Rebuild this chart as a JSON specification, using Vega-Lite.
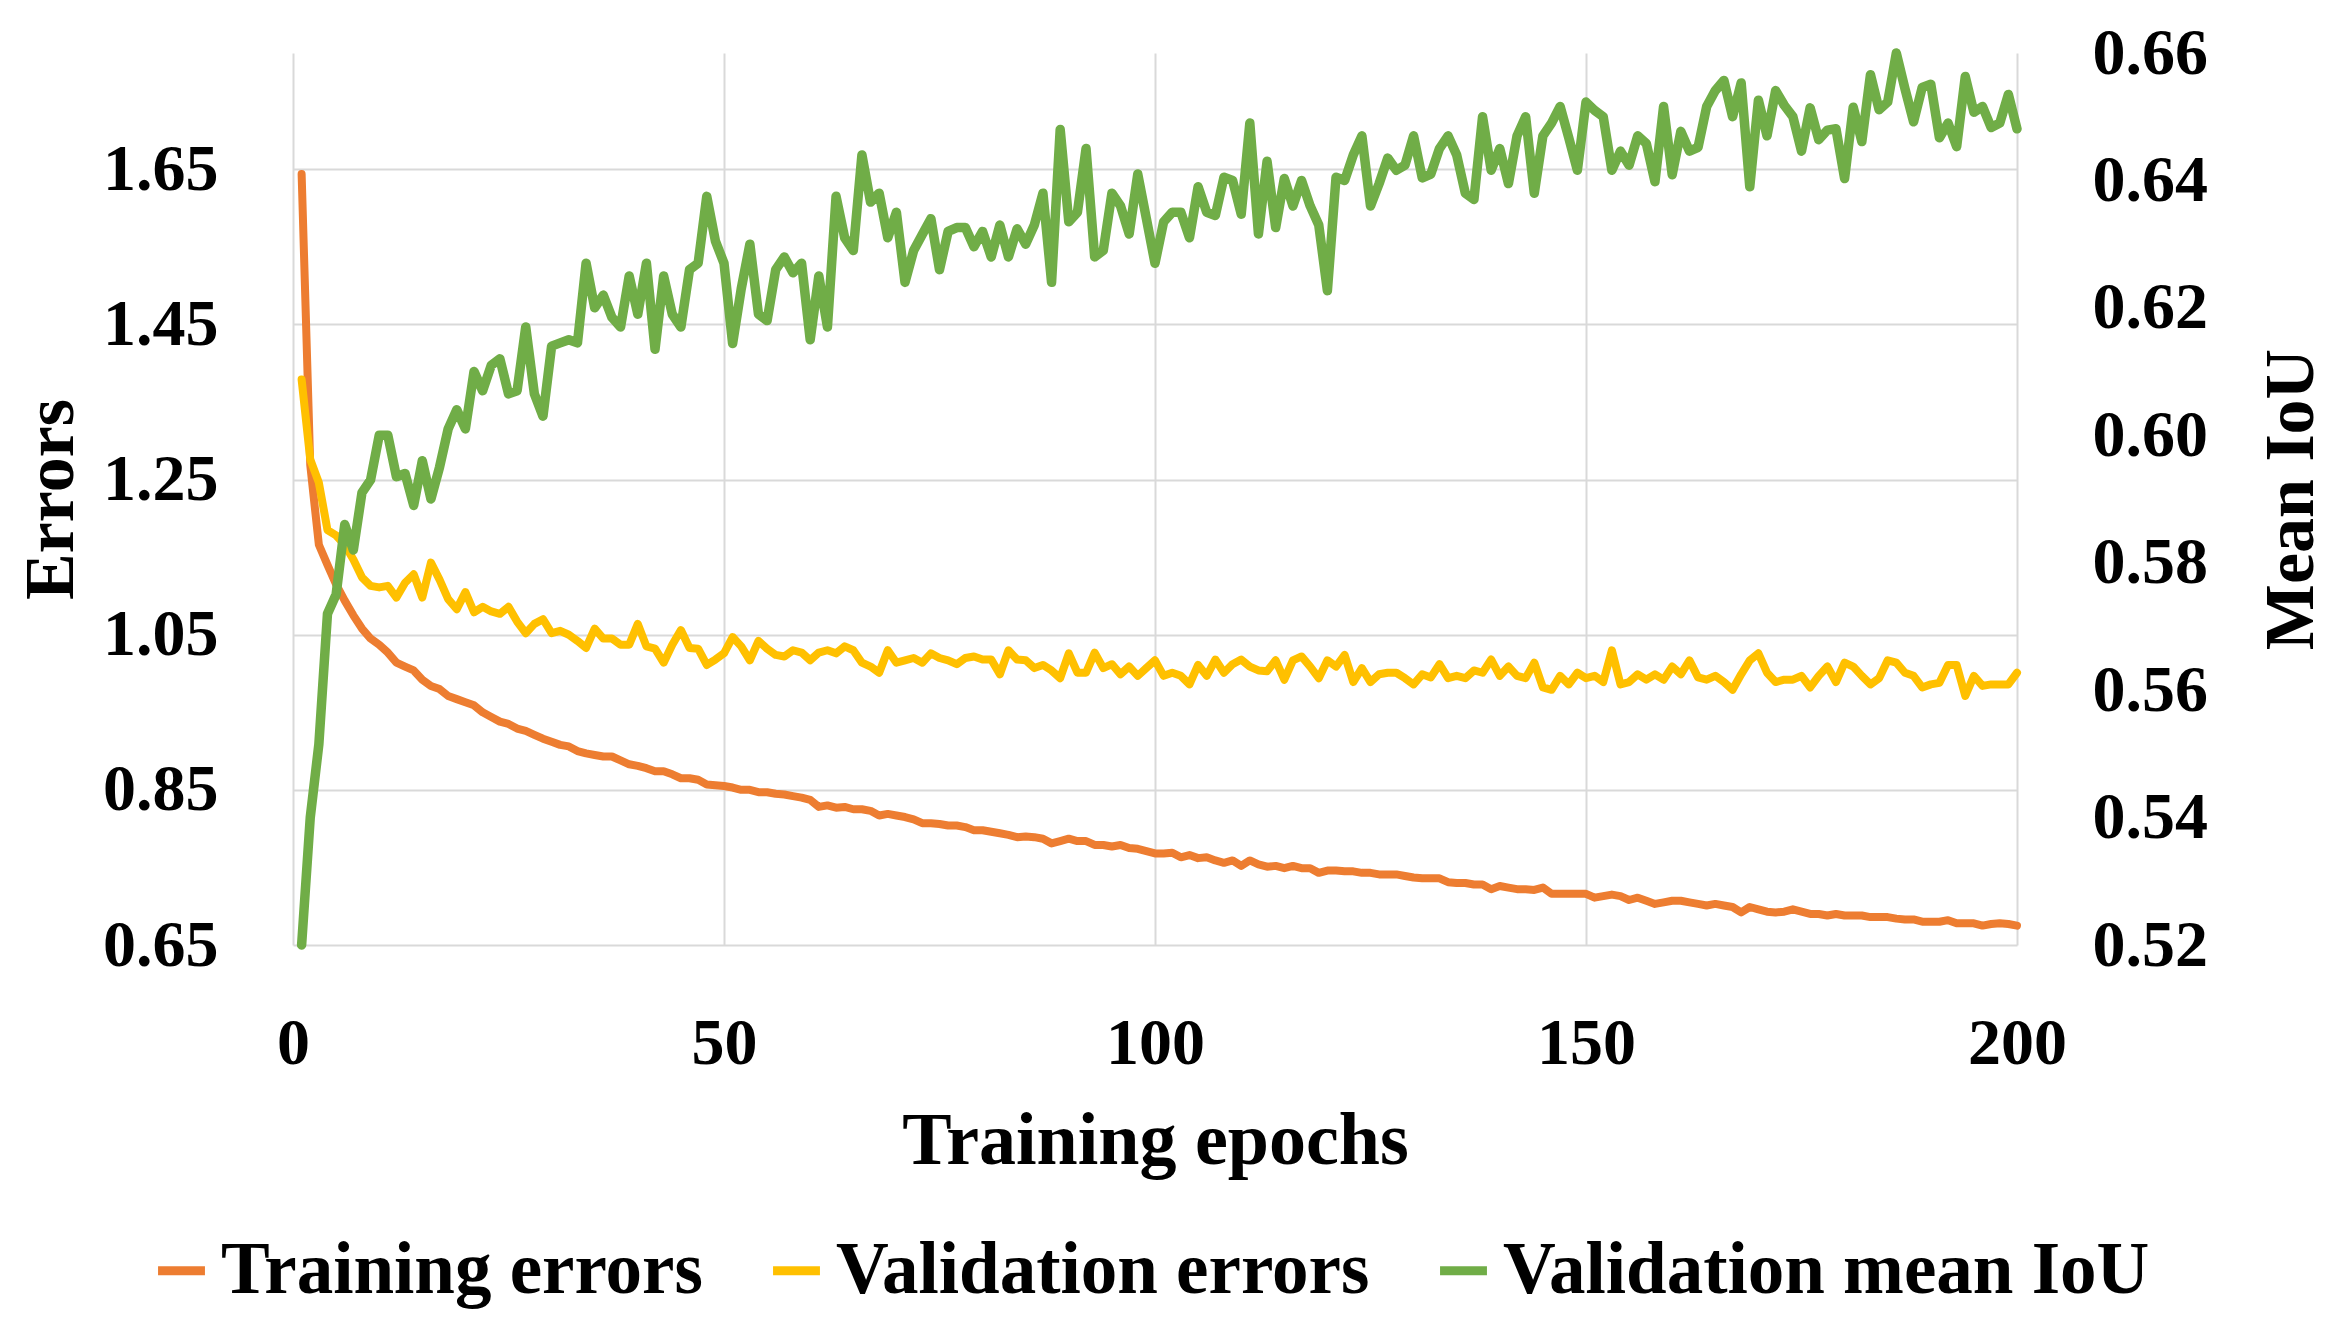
{
  "$schema": "https://vega.github.io/schema/vega-lite/v6.json",
  "width": 1724,
  "height": 892,
  "autosize": "none",
  "padding": {"left": 293, "top": 53, "right": 321, "bottom": 387},
  "background": "white",
  "data": {
    "values": [
      {"epoch": 1, "Training errors": 1.644, "Validation errors": 1.379, "Validation mean IoU": 0.520},
      {"epoch": 2, "Training errors": 1.269, "Validation errors": 1.276, "Validation mean IoU": 0.540},
      {"epoch": 3, "Training errors": 1.166, "Validation errors": 1.246, "Validation mean IoU": 0.5515},
      {"epoch": 4, "Training errors": 1.140, "Validation errors": 1.185, "Validation mean IoU": 0.572},
      {"epoch": 5, "Training errors": 1.115, "Validation errors": 1.178, "Validation mean IoU": 0.575},
      {"epoch": 6, "Training errors": 1.094, "Validation errors": 1.166, "Validation mean IoU": 0.586},
      {"epoch": 7, "Training errors": 1.075, "Validation errors": 1.147, "Validation mean IoU": 0.582},
      {"epoch": 8, "Training errors": 1.058, "Validation errors": 1.124, "Validation mean IoU": 0.591},
      {"epoch": 9, "Training errors": 1.045, "Validation errors": 1.113, "Validation mean IoU": 0.593},
      {"epoch": 10, "Training errors": 1.037, "Validation errors": 1.111, "Validation mean IoU": 0.600},
      {"epoch": 11, "Training errors": 1.027, "Validation errors": 1.113, "Validation mean IoU": 0.600},
      {"epoch": 12, "Training errors": 1.014, "Validation errors": 1.098, "Validation mean IoU": 0.5935},
      {"epoch": 13, "Training errors": 1.009, "Validation errors": 1.117, "Validation mean IoU": 0.594},
      {"epoch": 14, "Training errors": 1.004, "Validation errors": 1.128, "Validation mean IoU": 0.589},
      {"epoch": 15, "Training errors": 0.992, "Validation errors": 1.098, "Validation mean IoU": 0.596},
      {"epoch": 16, "Training errors": 0.984, "Validation errors": 1.143, "Validation mean IoU": 0.590},
      {"epoch": 17, "Training errors": 0.980, "Validation errors": 1.121, "Validation mean IoU": 0.595},
      {"epoch": 18, "Training errors": 0.971, "Validation errors": 1.096, "Validation mean IoU": 0.601},
      {"epoch": 19, "Training errors": 0.967, "Validation errors": 1.083, "Validation mean IoU": 0.604},
      {"epoch": 20, "Training errors": 0.963, "Validation errors": 1.105, "Validation mean IoU": 0.601},
      {"epoch": 21, "Training errors": 0.959, "Validation errors": 1.079, "Validation mean IoU": 0.610},
      {"epoch": 22, "Training errors": 0.950, "Validation errors": 1.086, "Validation mean IoU": 0.607},
      {"epoch": 23, "Training errors": 0.944, "Validation errors": 1.080, "Validation mean IoU": 0.611},
      {"epoch": 24, "Training errors": 0.938, "Validation errors": 1.077, "Validation mean IoU": 0.612},
      {"epoch": 25, "Training errors": 0.935, "Validation errors": 1.086, "Validation mean IoU": 0.6065},
      {"epoch": 26, "Training errors": 0.929, "Validation errors": 1.067, "Validation mean IoU": 0.607},
      {"epoch": 27, "Training errors": 0.926, "Validation errors": 1.052, "Validation mean IoU": 0.617},
      {"epoch": 28, "Training errors": 0.921, "Validation errors": 1.064, "Validation mean IoU": 0.6065},
      {"epoch": 29, "Training errors": 0.916, "Validation errors": 1.070, "Validation mean IoU": 0.603},
      {"epoch": 30, "Training errors": 0.912, "Validation errors": 1.052, "Validation mean IoU": 0.614},
      {"epoch": 31, "Training errors": 0.908, "Validation errors": 1.055, "Validation mean IoU": 0.6145},
      {"epoch": 32, "Training errors": 0.906, "Validation errors": 1.050, "Validation mean IoU": 0.615},
      {"epoch": 33, "Training errors": 0.900, "Validation errors": 1.042, "Validation mean IoU": 0.6145},
      {"epoch": 34, "Training errors": 0.897, "Validation errors": 1.033, "Validation mean IoU": 0.627},
      {"epoch": 35, "Training errors": 0.895, "Validation errors": 1.058, "Validation mean IoU": 0.620},
      {"epoch": 36, "Training errors": 0.893, "Validation errors": 1.045, "Validation mean IoU": 0.622},
      {"epoch": 37, "Training errors": 0.893, "Validation errors": 1.045, "Validation mean IoU": 0.6185},
      {"epoch": 38, "Training errors": 0.888, "Validation errors": 1.037, "Validation mean IoU": 0.617},
      {"epoch": 39, "Training errors": 0.883, "Validation errors": 1.037, "Validation mean IoU": 0.625},
      {"epoch": 40, "Training errors": 0.881, "Validation errors": 1.064, "Validation mean IoU": 0.619},
      {"epoch": 41, "Training errors": 0.878, "Validation errors": 1.035, "Validation mean IoU": 0.627},
      {"epoch": 42, "Training errors": 0.874, "Validation errors": 1.032, "Validation mean IoU": 0.6135},
      {"epoch": 43, "Training errors": 0.874, "Validation errors": 1.014, "Validation mean IoU": 0.625},
      {"epoch": 44, "Training errors": 0.870, "Validation errors": 1.037, "Validation mean IoU": 0.619},
      {"epoch": 45, "Training errors": 0.865, "Validation errors": 1.056, "Validation mean IoU": 0.617},
      {"epoch": 46, "Training errors": 0.865, "Validation errors": 1.033, "Validation mean IoU": 0.626},
      {"epoch": 47, "Training errors": 0.863, "Validation errors": 1.032, "Validation mean IoU": 0.627},
      {"epoch": 48, "Training errors": 0.857, "Validation errors": 1.011, "Validation mean IoU": 0.6375},
      {"epoch": 49, "Training errors": 0.856, "Validation errors": 1.018, "Validation mean IoU": 0.6305},
      {"epoch": 50, "Training errors": 0.855, "Validation errors": 1.026, "Validation mean IoU": 0.627},
      {"epoch": 51, "Training errors": 0.853, "Validation errors": 1.047, "Validation mean IoU": 0.6144},
      {"epoch": 52, "Training errors": 0.850, "Validation errors": 1.035, "Validation mean IoU": 0.623},
      {"epoch": 53, "Training errors": 0.850, "Validation errors": 1.017, "Validation mean IoU": 0.630},
      {"epoch": 54, "Training errors": 0.847, "Validation errors": 1.042, "Validation mean IoU": 0.619},
      {"epoch": 55, "Training errors": 0.847, "Validation errors": 1.032, "Validation mean IoU": 0.618},
      {"epoch": 56, "Training errors": 0.845, "Validation errors": 1.024, "Validation mean IoU": 0.626},
      {"epoch": 57, "Training errors": 0.844, "Validation errors": 1.022, "Validation mean IoU": 0.628},
      {"epoch": 58, "Training errors": 0.842, "Validation errors": 1.030, "Validation mean IoU": 0.6255},
      {"epoch": 59, "Training errors": 0.840, "Validation errors": 1.027, "Validation mean IoU": 0.627},
      {"epoch": 60, "Training errors": 0.837, "Validation errors": 1.017, "Validation mean IoU": 0.615},
      {"epoch": 61, "Training errors": 0.828, "Validation errors": 1.027, "Validation mean IoU": 0.625},
      {"epoch": 62, "Training errors": 0.830, "Validation errors": 1.030, "Validation mean IoU": 0.617},
      {"epoch": 63, "Training errors": 0.827, "Validation errors": 1.026, "Validation mean IoU": 0.6375},
      {"epoch": 64, "Training errors": 0.828, "Validation errors": 1.035, "Validation mean IoU": 0.631},
      {"epoch": 65, "Training errors": 0.825, "Validation errors": 1.030, "Validation mean IoU": 0.629},
      {"epoch": 66, "Training errors": 0.825, "Validation errors": 1.014, "Validation mean IoU": 0.644},
      {"epoch": 67, "Training errors": 0.823, "Validation errors": 1.009, "Validation mean IoU": 0.6366},
      {"epoch": 68, "Training errors": 0.817, "Validation errors": 1.001, "Validation mean IoU": 0.638},
      {"epoch": 69, "Training errors": 0.819, "Validation errors": 1.030, "Validation mean IoU": 0.631},
      {"epoch": 70, "Training errors": 0.817, "Validation errors": 1.014, "Validation mean IoU": 0.635},
      {"epoch": 71, "Training errors": 0.815, "Validation errors": 1.017, "Validation mean IoU": 0.624},
      {"epoch": 72, "Training errors": 0.812, "Validation errors": 1.020, "Validation mean IoU": 0.629},
      {"epoch": 73, "Training errors": 0.807, "Validation errors": 1.014, "Validation mean IoU": 0.6315},
      {"epoch": 74, "Training errors": 0.807, "Validation errors": 1.026, "Validation mean IoU": 0.634},
      {"epoch": 75, "Training errors": 0.806, "Validation errors": 1.020, "Validation mean IoU": 0.626},
      {"epoch": 76, "Training errors": 0.804, "Validation errors": 1.017, "Validation mean IoU": 0.632},
      {"epoch": 77, "Training errors": 0.804, "Validation errors": 1.012, "Validation mean IoU": 0.6326},
      {"epoch": 78, "Training errors": 0.802, "Validation errors": 1.020, "Validation mean IoU": 0.6326},
      {"epoch": 79, "Training errors": 0.798, "Validation errors": 1.022, "Validation mean IoU": 0.6296},
      {"epoch": 80, "Training errors": 0.798, "Validation errors": 1.018, "Validation mean IoU": 0.632},
      {"epoch": 81, "Training errors": 0.796, "Validation errors": 1.018, "Validation mean IoU": 0.628},
      {"epoch": 82, "Training errors": 0.794, "Validation errors": 0.999, "Validation mean IoU": 0.633},
      {"epoch": 83, "Training errors": 0.792, "Validation errors": 1.030, "Validation mean IoU": 0.628},
      {"epoch": 84, "Training errors": 0.789, "Validation errors": 1.018, "Validation mean IoU": 0.6324},
      {"epoch": 85, "Training errors": 0.790, "Validation errors": 1.017, "Validation mean IoU": 0.630},
      {"epoch": 86, "Training errors": 0.789, "Validation errors": 1.007, "Validation mean IoU": 0.633},
      {"epoch": 87, "Training errors": 0.787, "Validation errors": 1.011, "Validation mean IoU": 0.638},
      {"epoch": 88, "Training errors": 0.781, "Validation errors": 1.004, "Validation mean IoU": 0.624},
      {"epoch": 89, "Training errors": 0.784, "Validation errors": 0.994, "Validation mean IoU": 0.648},
      {"epoch": 90, "Training errors": 0.787, "Validation errors": 1.026, "Validation mean IoU": 0.6335},
      {"epoch": 91, "Training errors": 0.784, "Validation errors": 1.001, "Validation mean IoU": 0.635},
      {"epoch": 92, "Training errors": 0.784, "Validation errors": 1.001, "Validation mean IoU": 0.645},
      {"epoch": 93, "Training errors": 0.779, "Validation errors": 1.027, "Validation mean IoU": 0.628},
      {"epoch": 94, "Training errors": 0.779, "Validation errors": 1.007, "Validation mean IoU": 0.629},
      {"epoch": 95, "Training errors": 0.777, "Validation errors": 1.012, "Validation mean IoU": 0.638},
      {"epoch": 96, "Training errors": 0.779, "Validation errors": 0.999, "Validation mean IoU": 0.636},
      {"epoch": 97, "Training errors": 0.775, "Validation errors": 1.009, "Validation mean IoU": 0.6316},
      {"epoch": 98, "Training errors": 0.774, "Validation errors": 0.997, "Validation mean IoU": 0.641},
      {"epoch": 99, "Training errors": 0.771, "Validation errors": 1.007, "Validation mean IoU": 0.634},
      {"epoch": 100, "Training errors": 0.768, "Validation errors": 1.017, "Validation mean IoU": 0.627},
      {"epoch": 101, "Training errors": 0.768, "Validation errors": 0.997, "Validation mean IoU": 0.6335},
      {"epoch": 102, "Training errors": 0.769, "Validation errors": 1.001, "Validation mean IoU": 0.635},
      {"epoch": 103, "Training errors": 0.763, "Validation errors": 0.997, "Validation mean IoU": 0.635},
      {"epoch": 104, "Training errors": 0.766, "Validation errors": 0.986, "Validation mean IoU": 0.631},
      {"epoch": 105, "Training errors": 0.762, "Validation errors": 1.011, "Validation mean IoU": 0.639},
      {"epoch": 106, "Training errors": 0.763, "Validation errors": 0.997, "Validation mean IoU": 0.635},
      {"epoch": 107, "Training errors": 0.759, "Validation errors": 1.018, "Validation mean IoU": 0.6345},
      {"epoch": 108, "Training errors": 0.756, "Validation errors": 1.001, "Validation mean IoU": 0.6405},
      {"epoch": 109, "Training errors": 0.759, "Validation errors": 1.012, "Validation mean IoU": 0.640},
      {"epoch": 110, "Training errors": 0.752, "Validation errors": 1.018, "Validation mean IoU": 0.6347},
      {"epoch": 111, "Training errors": 0.759, "Validation errors": 1.009, "Validation mean IoU": 0.649},
      {"epoch": 112, "Training errors": 0.754, "Validation errors": 1.004, "Validation mean IoU": 0.6316},
      {"epoch": 113, "Training errors": 0.751, "Validation errors": 1.003, "Validation mean IoU": 0.643},
      {"epoch": 114, "Training errors": 0.752, "Validation errors": 1.017, "Validation mean IoU": 0.6326},
      {"epoch": 115, "Training errors": 0.749, "Validation errors": 0.992, "Validation mean IoU": 0.6403},
      {"epoch": 116, "Training errors": 0.752, "Validation errors": 1.017, "Validation mean IoU": 0.636},
      {"epoch": 117, "Training errors": 0.749, "Validation errors": 1.022, "Validation mean IoU": 0.640},
      {"epoch": 118, "Training errors": 0.749, "Validation errors": 1.009, "Validation mean IoU": 0.636},
      {"epoch": 119, "Training errors": 0.743, "Validation errors": 0.994, "Validation mean IoU": 0.633},
      {"epoch": 120, "Training errors": 0.746, "Validation errors": 1.017, "Validation mean IoU": 0.6227},
      {"epoch": 121, "Training errors": 0.746, "Validation errors": 1.009, "Validation mean IoU": 0.6405},
      {"epoch": 122, "Training errors": 0.745, "Validation errors": 1.024, "Validation mean IoU": 0.640},
      {"epoch": 123, "Training errors": 0.745, "Validation errors": 0.989, "Validation mean IoU": 0.644},
      {"epoch": 124, "Training errors": 0.743, "Validation errors": 1.007, "Validation mean IoU": 0.647},
      {"epoch": 125, "Training errors": 0.743, "Validation errors": 0.989, "Validation mean IoU": 0.636},
      {"epoch": 126, "Training errors": 0.741, "Validation errors": 0.999, "Validation mean IoU": 0.6395},
      {"epoch": 127, "Training errors": 0.741, "Validation errors": 1.001, "Validation mean IoU": 0.6435},
      {"epoch": 128, "Training errors": 0.741, "Validation errors": 1.001, "Validation mean IoU": 0.6416},
      {"epoch": 129, "Training errors": 0.739, "Validation errors": 0.994, "Validation mean IoU": 0.6424},
      {"epoch": 130, "Training errors": 0.737, "Validation errors": 0.986, "Validation mean IoU": 0.647},
      {"epoch": 131, "Training errors": 0.736, "Validation errors": 0.999, "Validation mean IoU": 0.6404},
      {"epoch": 132, "Training errors": 0.736, "Validation errors": 0.995, "Validation mean IoU": 0.641},
      {"epoch": 133, "Training errors": 0.736, "Validation errors": 1.012, "Validation mean IoU": 0.645},
      {"epoch": 134, "Training errors": 0.731, "Validation errors": 0.994, "Validation mean IoU": 0.647},
      {"epoch": 135, "Training errors": 0.730, "Validation errors": 0.997, "Validation mean IoU": 0.644},
      {"epoch": 136, "Training errors": 0.730, "Validation errors": 0.994, "Validation mean IoU": 0.638},
      {"epoch": 137, "Training errors": 0.728, "Validation errors": 1.004, "Validation mean IoU": 0.637},
      {"epoch": 138, "Training errors": 0.728, "Validation errors": 1.001, "Validation mean IoU": 0.650},
      {"epoch": 139, "Training errors": 0.722, "Validation errors": 1.018, "Validation mean IoU": 0.6416},
      {"epoch": 140, "Training errors": 0.726, "Validation errors": 0.997, "Validation mean IoU": 0.645},
      {"epoch": 141, "Training errors": 0.724, "Validation errors": 1.009, "Validation mean IoU": 0.6395},
      {"epoch": 142, "Training errors": 0.722, "Validation errors": 0.997, "Validation mean IoU": 0.647},
      {"epoch": 143, "Training errors": 0.722, "Validation errors": 0.994, "Validation mean IoU": 0.650},
      {"epoch": 144, "Training errors": 0.721, "Validation errors": 1.014, "Validation mean IoU": 0.638},
      {"epoch": 145, "Training errors": 0.724, "Validation errors": 0.982, "Validation mean IoU": 0.647},
      {"epoch": 146, "Training errors": 0.716, "Validation errors": 0.979, "Validation mean IoU": 0.649},
      {"epoch": 147, "Training errors": 0.716, "Validation errors": 0.997, "Validation mean IoU": 0.6516},
      {"epoch": 148, "Training errors": 0.716, "Validation errors": 0.986, "Validation mean IoU": 0.6467},
      {"epoch": 149, "Training errors": 0.716, "Validation errors": 1.001, "Validation mean IoU": 0.6416},
      {"epoch": 150, "Training errors": 0.716, "Validation errors": 0.994, "Validation mean IoU": 0.6523},
      {"epoch": 151, "Training errors": 0.711, "Validation errors": 0.997, "Validation mean IoU": 0.651},
      {"epoch": 152, "Training errors": 0.713, "Validation errors": 0.989, "Validation mean IoU": 0.650},
      {"epoch": 153, "Training errors": 0.715, "Validation errors": 1.030, "Validation mean IoU": 0.6416},
      {"epoch": 154, "Training errors": 0.713, "Validation errors": 0.986, "Validation mean IoU": 0.6446},
      {"epoch": 155, "Training errors": 0.708, "Validation errors": 0.989, "Validation mean IoU": 0.6424},
      {"epoch": 156, "Training errors": 0.711, "Validation errors": 0.999, "Validation mean IoU": 0.647},
      {"epoch": 157, "Training errors": 0.707, "Validation errors": 0.992, "Validation mean IoU": 0.6458},
      {"epoch": 158, "Training errors": 0.703, "Validation errors": 0.999, "Validation mean IoU": 0.6398},
      {"epoch": 159, "Training errors": 0.705, "Validation errors": 0.992, "Validation mean IoU": 0.6516},
      {"epoch": 160, "Training errors": 0.707, "Validation errors": 1.009, "Validation mean IoU": 0.6409},
      {"epoch": 161, "Training errors": 0.707, "Validation errors": 0.999, "Validation mean IoU": 0.6477},
      {"epoch": 162, "Training errors": 0.705, "Validation errors": 1.017, "Validation mean IoU": 0.6446},
      {"epoch": 163, "Training errors": 0.703, "Validation errors": 0.995, "Validation mean IoU": 0.6452},
      {"epoch": 164, "Training errors": 0.701, "Validation errors": 0.992, "Validation mean IoU": 0.6516},
      {"epoch": 165, "Training errors": 0.703, "Validation errors": 0.997, "Validation mean IoU": 0.6541},
      {"epoch": 166, "Training errors": 0.701, "Validation errors": 0.989, "Validation mean IoU": 0.6557},
      {"epoch": 167, "Training errors": 0.699, "Validation errors": 0.979, "Validation mean IoU": 0.650},
      {"epoch": 168, "Training errors": 0.692, "Validation errors": 0.999, "Validation mean IoU": 0.6553},
      {"epoch": 169, "Training errors": 0.699, "Validation errors": 1.017, "Validation mean IoU": 0.639},
      {"epoch": 170, "Training errors": 0.696, "Validation errors": 1.026, "Validation mean IoU": 0.6526},
      {"epoch": 171, "Training errors": 0.693, "Validation errors": 1.001, "Validation mean IoU": 0.647},
      {"epoch": 172, "Training errors": 0.692, "Validation errors": 0.989, "Validation mean IoU": 0.6541},
      {"epoch": 173, "Training errors": 0.693, "Validation errors": 0.992, "Validation mean IoU": 0.6518},
      {"epoch": 174, "Training errors": 0.696, "Validation errors": 0.992, "Validation mean IoU": 0.650},
      {"epoch": 175, "Training errors": 0.693, "Validation errors": 0.997, "Validation mean IoU": 0.6446},
      {"epoch": 176, "Training errors": 0.690, "Validation errors": 0.982, "Validation mean IoU": 0.6514},
      {"epoch": 177, "Training errors": 0.690, "Validation errors": 0.997, "Validation mean IoU": 0.6464},
      {"epoch": 178, "Training errors": 0.688, "Validation errors": 1.009, "Validation mean IoU": 0.6479},
      {"epoch": 179, "Training errors": 0.690, "Validation errors": 0.989, "Validation mean IoU": 0.6481},
      {"epoch": 180, "Training errors": 0.688, "Validation errors": 1.014, "Validation mean IoU": 0.6403},
      {"epoch": 181, "Training errors": 0.688, "Validation errors": 1.009, "Validation mean IoU": 0.6515},
      {"epoch": 182, "Training errors": 0.688, "Validation errors": 0.997, "Validation mean IoU": 0.6461},
      {"epoch": 183, "Training errors": 0.686, "Validation errors": 0.986, "Validation mean IoU": 0.6566},
      {"epoch": 184, "Training errors": 0.686, "Validation errors": 0.994, "Validation mean IoU": 0.6511},
      {"epoch": 185, "Training errors": 0.686, "Validation errors": 1.017, "Validation mean IoU": 0.6523},
      {"epoch": 186, "Training errors": 0.684, "Validation errors": 1.014, "Validation mean IoU": 0.660},
      {"epoch": 187, "Training errors": 0.683, "Validation errors": 1.001, "Validation mean IoU": 0.6544},
      {"epoch": 188, "Training errors": 0.683, "Validation errors": 0.997, "Validation mean IoU": 0.6492},
      {"epoch": 189, "Training errors": 0.680, "Validation errors": 0.982, "Validation mean IoU": 0.6546},
      {"epoch": 190, "Training errors": 0.680, "Validation errors": 0.986, "Validation mean IoU": 0.6551},
      {"epoch": 191, "Training errors": 0.680, "Validation errors": 0.988, "Validation mean IoU": 0.6467},
      {"epoch": 192, "Training errors": 0.682, "Validation errors": 1.011, "Validation mean IoU": 0.649},
      {"epoch": 193, "Training errors": 0.678, "Validation errors": 1.011, "Validation mean IoU": 0.6453},
      {"epoch": 194, "Training errors": 0.678, "Validation errors": 0.971, "Validation mean IoU": 0.6563},
      {"epoch": 195, "Training errors": 0.678, "Validation errors": 0.997, "Validation mean IoU": 0.6507},
      {"epoch": 196, "Training errors": 0.675, "Validation errors": 0.984, "Validation mean IoU": 0.6516},
      {"epoch": 197, "Training errors": 0.677, "Validation errors": 0.986, "Validation mean IoU": 0.6483},
      {"epoch": 198, "Training errors": 0.678, "Validation errors": 0.986, "Validation mean IoU": 0.649},
      {"epoch": 199, "Training errors": 0.677, "Validation errors": 0.986, "Validation mean IoU": 0.6535},
      {"epoch": 200, "Training errors": 0.675, "Validation errors": 1.001, "Validation mean IoU": 0.6481}
    ]
  },
  "encoding": {
    "x": {
      "field": "epoch",
      "type": "quantitative",
      "scale": {"domain": [0, 200], "nice": false},
      "axis": {
        "values": [0, 50, 100, 150, 200],
        "title": "Training epochs",
        "grid": true,
        "labelPadding": 118,
        "labelBaseline": "alphabetic",
        "titleFontSize": 74,
        "titleBaseline": "alphabetic",
        "titleY": 218
      }
    }
  },
  "layer": [
    {
      "transform": [{"fold": ["Training errors", "Validation errors"], "as": ["series", "value"]}],
      "mark": {"type": "line", "strokeWidth": 8, "strokeJoin": "round", "strokeCap": "round"},
      "encoding": {
        "y": {
          "field": "value",
          "type": "quantitative",
          "scale": {"domain": [0.65, 1.8], "nice": false, "zero": false},
          "axis": {
            "values": [0.65, 0.85, 1.05, 1.25, 1.45, 1.65],
            "format": ".2f",
            "title": "Errors",
            "grid": true,
            "labelPadding": 75,
            "titleAngle": 270,
            "titleAlign": "center",
            "titleBaseline": "alphabetic",
            "titleX": -221,
            "titleY": 446
          }
        },
        "color": {
          "field": "series",
          "type": "nominal",
          "scale": {
            "domain": ["Training errors", "Validation errors", "Validation mean IoU"],
            "range": ["#ED7D31", "#FFC000", "#70AD47"]
          },
          "legend": {
            "orient": "none",
            "direction": "horizontal",
            "legendX": -148,
            "legendY": 1181,
            "title": null
          }
        }
      }
    },
    {
      "transform": [{"fold": ["Validation mean IoU"], "as": ["series", "value"]}],
      "mark": {"type": "line", "strokeWidth": 9.5, "strokeJoin": "round", "strokeCap": "round"},
      "encoding": {
        "y": {
          "field": "value",
          "type": "quantitative",
          "scale": {"domain": [0.52, 0.66], "nice": false, "zero": false},
          "axis": {
            "orient": "right",
            "values": [0.52, 0.54, 0.56, 0.58, 0.6, 0.62, 0.64, 0.66],
            "format": ".2f",
            "title": "Mean IoU",
            "grid": false,
            "labelPadding": 75,
            "titleAngle": 270,
            "titleAlign": "center",
            "titleBaseline": "alphabetic",
            "titleX": 295,
            "titleY": 446
          }
        },
        "color": {"field": "series", "type": "nominal"}
      }
    }
  ],
  "resolve": {"scale": {"y": "independent"}, "axis": {"y": "independent"}},
  "config": {
    "font": "Liberation Serif",
    "view": {"stroke": null},
    "axis": {
      "labelFont": "Liberation Serif",
      "labelFontSize": 66,
      "labelFontWeight": "bold",
      "labelColor": "#000000",
      "titleFont": "Liberation Serif",
      "titleFontSize": 70,
      "titleFontWeight": "bold",
      "titleColor": "#000000",
      "domain": false,
      "ticks": false,
      "tickSize": 0,
      "gridColor": "#D9D9D9",
      "gridWidth": 2,
      "labelFlush": false,
      "labelOverlap": false,
      "labelBound": false
    },
    "legend": {
      "symbolType": "stroke",
      "symbolSize": 2200,
      "symbolStrokeWidth": 9,
      "labelFont": "Liberation Serif",
      "labelFontSize": 73,
      "labelFontWeight": "bold",
      "labelColor": "#000000",
      "labelOffset": 3,
      "labelLimit": 1000,
      "columnPadding": 52,
      "padding": 0
    }
  }
}
